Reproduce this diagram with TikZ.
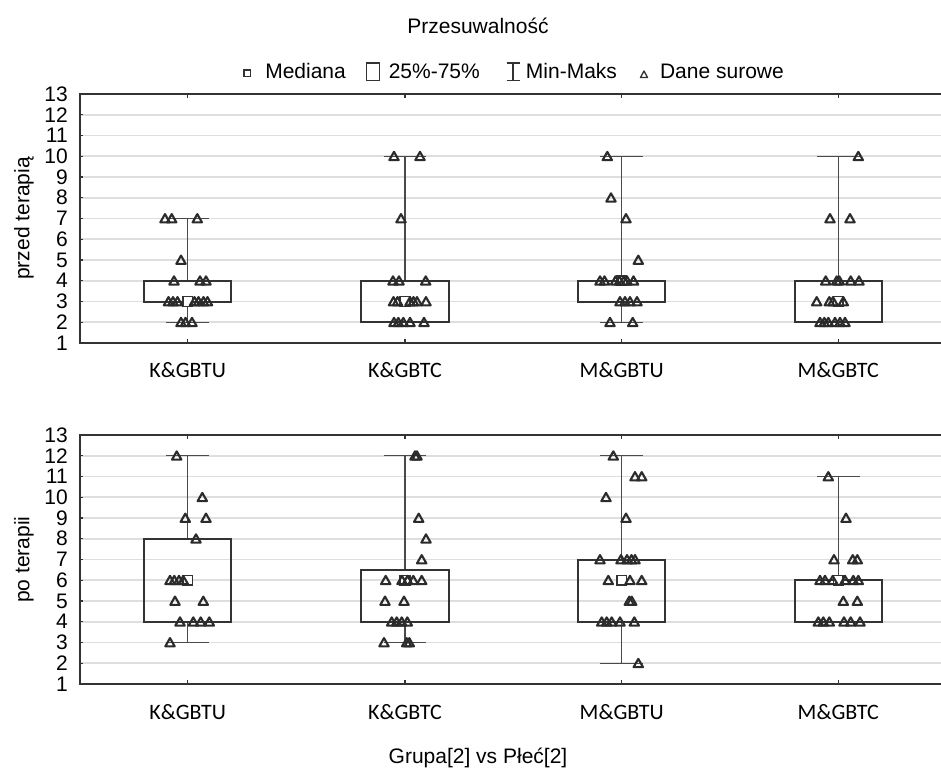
\documentclass[tikz,border=0pt]{standalone}
\usepackage{fontspec}
\setmainfont{Liberation Sans}
\newfontfamily\calfont{Carlito}
\definecolor{gridc}{HTML}{DEDEDE}
\definecolor{framec}{HTML}{333333}
\definecolor{boxc}{HTML}{333333}
\definecolor{whc}{HTML}{4A4A4A}
\definecolor{tric}{HTML}{2B2B2B}
\tikzset{
  gridln/.style={draw=gridc, line width=1.2pt},
  framel/.style={draw=framec, line width=1.1pt},
  boxl/.style={draw=boxc, line width=1.5pt},
  whisk/.style={draw=whc, line width=1pt},
  medsq/.style={draw=boxc, line width=1.1pt, fill=white},
  trimark/.style={draw=tric, line width=1.6pt, line join=round},
  tri/.pic={\draw[trimark] (-3.5pt,-2.9pt) -- (3.5pt,-2.9pt) -- (0pt,3.3pt) -- cycle;},
  lbl/.style={font=\fontsize{15.75}{18}\selectfont, inner sep=0pt},
  cat/.style={font=\calfont\fontsize{16.5}{19}\selectfont, inner sep=0pt},
  legl/.style={draw=framec, line width=0.8pt},
}
% c, q1, q3, min, max, median
\newcommand\bplot[6]{%
  \draw[whisk] (#1,#4) -- (#1,#2);
  \draw[whisk] (#1,#3) -- (#1,#5);
  \draw[whisk] ({#1-21.3},#4) -- ({#1+21.3},#4);
  \draw[whisk] ({#1-21.3},#5) -- ({#1+21.3},#5);
  \draw[boxl] ({#1-43.6},#2) rectangle ({#1+43.6},#3);
  \draw[medsq] ([shift={(-3.6pt,-3.6pt)}]#1,#6) rectangle ([shift={(3.6pt,3.6pt)}]#1,#6);
}
\newcommand\trirow[2]{\foreach \xx in {#2}{\pic at (\xx,#1) {tri};}}
\newcommand\panelframe[1]{%
  \foreach \v in {2,...,12} \draw[gridln] (80,\v) -- (941,\v);
  \draw[framel] (941,13) -- (80,13) -- (80,1) -- (941,1);
  \foreach \v in {1,...,13} {
    \draw[framel] (80,\v) -- ([xshift=2.6pt]80,\v);
    \node[lbl, anchor=east] (#1\v) at (68,\v) {\v};
  }
  \foreach \c in {187.7,405,621.7,838.3} {
    \draw[framel] (\c,1) -- ([yshift=3pt]\c,1);
    \draw[framel] (\c,13) -- ([yshift=-3pt]\c,13);
  }
}
\begin{document}
\begin{tikzpicture}[x=0.75pt, y=-0.75pt]
\useasboundingbox (0,0) rectangle (941,770);

% title and legend
\node[lbl, anchor=base] (title) at (478,33.7) {Przesuwalność};
\draw[legl] (244,70) rectangle (250.5,76.5);
\node[lbl, anchor=base west] (lg1) at (265,78.5) {Mediana};
\draw[legl, line width=1.1pt] (366.7,63) rectangle (379.3,80.5);
\node[lbl, anchor=base west] (lg2) at (388.5,78.5) {25\%-75\%};
\draw[legl] (513,63) -- (513,80.5);
\draw[legl] (506.5,63) -- (519.5,63);
\draw[legl] (506.5,80.5) -- (519.5,80.5);
\node[lbl, anchor=base west] (lg3) at (525.7,78.5) {Min-Maks};
\draw[legl, line width=1pt, line join=round] (640.5,77.5) -- (647.5,77.5) -- (644,71) -- cycle;
\node[lbl, anchor=base west] (lg4) at (659.8,78.5) {Dane surowe};

% top panel
\begin{scope}[shift={(0,363.75)}, y=15.5625pt]
  \panelframe{ta}
  \bplot{187.7}{3}{4}{2}{7}{3}
  \bplot{405}{2}{4}{2}{10}{3}
  \bplot{621.7}{3}{4}{2}{10}{4}
  \bplot{838.3}{2}{4}{2}{10}{3}
  % K&GBTU
  \trirow{7}{165,171.7,197.3}
  \trirow{5}{181}
  \trirow{4}{174,200,206}
  \trirow{3}{168.5,173,177.5,194.5,198.5,203.5,207.5}
  \trirow{2}{181,185.5,192}
  % K&GBTC
  \trirow{10}{394,420}
  \trirow{7}{401}
  \trirow{4}{393,399,425.7}
  \trirow{3}{393.5,397.5,410,413.5,417,426}
  \trirow{2}{394,398.3,403.3,410,424}
  % M&GBTU
  \trirow{10}{607.3}
  \trirow{8}{611}
  \trirow{7}{626}
  \trirow{5}{638.3}
  \trirow{4}{600,604.5,615.5,619.5,624,627,633.5}
  \trirow{3}{620,625,630,637}
  \trirow{2}{610,632.7}
  % M&GBTC
  \trirow{10}{858.3}
  \trirow{7}{830,850}
  \trirow{4}{825.7,836.7,839.3,850.7,859}
  \trirow{3}{816.7,829.3,833,843.3}
  \trirow{2}{820,824.3,828.3,835,840,845}
\end{scope}
\node[lbl, rotate=90] (yl1) at (24,218.5) {przed terapią};
\node[cat] (ca1) at (187.7,370) {K\&GBTU};
\node[cat] (ca2) at (405,370) {K\&GBTC};
\node[cat] (ca3) at (621.7,370) {M\&GBTU};
\node[cat] (ca4) at (838.3,370) {M\&GBTC};

% bottom panel
\begin{scope}[shift={(0,704.75)}, y=15.5625pt]
  \panelframe{tb}
  \bplot{187.7}{4}{8}{3}{12}{6}
  \bplot{405}{4}{6.5}{3}{12}{6}
  \bplot{621.7}{4}{7}{2}{12}{6}
  \bplot{838.3}{4}{6}{4}{11}{6}
  % K&GBTU
  \trirow{12}{176.7}
  \trirow{10}{202.3}
  \trirow{9}{185.3,206}
  \trirow{8}{196}
  \trirow{6}{170,174.3,179,183.3}
  \trirow{5}{175,203.3}
  \trirow{4}{180,193.3,200.7,209.3}
  \trirow{3}{170}
  % K&GBTC
  \trirow{12}{415,417}
  \trirow{9}{418.7}
  \trirow{8}{426}
  \trirow{7}{421.7}
  \trirow{6}{385.7,402,407.5,413.3,421.7}
  \trirow{5}{385,404}
  \trirow{4}{391.7,396.7,401.7,407.3}
  \trirow{3}{384,406.7,409.3}
  % M&GBTU
  \trirow{12}{613.3}
  \trirow{11}{635,641.7}
  \trirow{10}{606}
  \trirow{9}{626}
  \trirow{7}{600,621,627,631.5,635}
  \trirow{6}{608.3,630,641.7}
  \trirow{5}{629.3,631.7}
  \trirow{4}{601.7,606.7,611.7,620,634.3}
  \trirow{2}{638.3}
  % M&GBTC
  \trirow{11}{828.3}
  \trirow{9}{846}
  \trirow{7}{834,852.7,857.3}
  \trirow{6}{820,825,832.7,845,853.3,858.3}
  \trirow{5}{843.3,857.3}
  \trirow{4}{818.3,823.3,829.3,844,850.7,860}
\end{scope}
\node[lbl, rotate=90] (yl2) at (24,559.5) {po terapii};
\node[cat] (cb1) at (187.7,712) {K\&GBTU};
\node[cat] (cb2) at (405,712) {K\&GBTC};
\node[cat] (cb3) at (621.7,712) {M\&GBTU};
\node[cat] (cb4) at (838.3,712) {M\&GBTC};

\node[lbl] (xl) at (478,758) {Grupa[2] vs Płeć[2]};
\end{tikzpicture}
\end{document}
